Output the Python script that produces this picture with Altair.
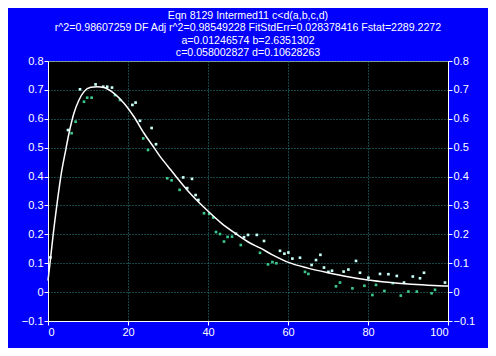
import altair as alt
import pandas as pd
import numpy as np

# ---- data ----
pt_x = [0.6, 5.0, 5.9, 6.9, 8.0, 9.0, 9.8, 10.9, 11.9, 13.8, 14.8, 16.0, 16.75, 18.0,
        21.1, 21.9, 23.0, 23.8, 25.0, 25.9, 27.0, 29.8, 30.9, 32.9, 33.8, 34.8, 36.0,
        36.9, 37.6, 39.0, 40.3, 41.3, 42.0, 43.0, 44.0, 44.9, 46.0, 47.0, 48.2, 49.0,
        50.0, 52.2, 53.0, 54.0, 55.0, 56.1, 57.1, 58.0, 59.1, 60.1, 61.1, 63.0, 64.25,
        65.1, 65.9, 67.0, 68.1, 69.0, 70.1, 71.0, 72.0, 73.0, 73.9, 75.1, 76.1, 77.0,
        78.0, 79.1, 80.1, 81.1, 82.0, 83.0, 84.1, 85.1, 86.2, 87.2, 88.2, 89.0, 90.1,
        91.2, 92.2, 93.0, 94.0, 95.9, 96.75, 99.25]
pt_y = [0.12, 0.561, 0.55, 0.59, 0.702, 0.659, 0.673, 0.673, 0.719, 0.711, 0.711, 0.708,
        0.682, 0.665, 0.648, 0.656, 0.593, 0.532, 0.492, 0.568, 0.512, 0.394, 0.387,
        0.354, 0.397, 0.36, 0.392, 0.336, 0.319, 0.273, 0.271, 0.258, 0.208, 0.201,
        0.175, 0.191, 0.192, 0.202, 0.163, 0.19, 0.198, 0.198, 0.136, 0.177, 0.096,
        0.104, 0.1, 0.143, 0.133, 0.137, 0.116, 0.119, 0.07, 0.063, 0.094, 0.111, 0.129,
        0.085, 0.07, 0.074, 0.02, 0.033, 0.071, 0.078, 0.013, 0.108, 0.067, 0.022, 0.05,
        -0.01, 0.025, 0.063, 0.004, 0.062, 0.031, 0.056, -0.012, 0.033, 0.002, 0.054,
        0.002, 0.048, 0.067, -0.004, 0.008, 0.033]

fit_x = [0, 0.5, 1.3, 2.3, 3.2, 4.4, 5.25, 6.5, 7.75, 9, 10.7, 12.3, 14, 16.5, 19, 21.5,
         24, 26, 28, 30, 32, 35, 39.25, 43.4, 46.75, 50.5, 53, 56, 60.3, 65, 70, 75,
         80, 85, 90, 95, 100]
fit_y = [0.04, 0.10, 0.20, 0.31, 0.40, 0.49, 0.55, 0.62, 0.665, 0.694, 0.709, 0.711,
         0.708, 0.688, 0.654, 0.607, 0.55, 0.51, 0.47, 0.435, 0.40, 0.35, 0.29, 0.238,
         0.204, 0.17, 0.153, 0.13, 0.102, 0.083, 0.067, 0.053, 0.042, 0.034, 0.028,
         0.024, 0.021]

title_lines = [
    "Eqn 8129  Intermed11 c<d(a,b,c,d)",
    "r^2=0.98607259  DF Adj r^2=0.98549228  FitStdErr=0.028378416  Fstat=2289.2272",
    "a=0.01246574 b=2.6351302",
    "c=0.058002827 d=0.10628263",
]

x_ticks = list(range(0, 101, 10))
y_ticks = [-0.1, 0.0, 0.1, 0.2, 0.3, 0.4, 0.5, 0.6, 0.7, 0.8]

# ---- tables ----
resid = np.array(pt_y) - np.interp(pt_x, fit_x, fit_y)
pts = pd.DataFrame({"x": pt_x, "y": pt_y,
                    "side": np.where(resid >= 0, "above", "below")})
fit = pd.DataFrame({"x": fit_x, "y": fit_y})

FONT = "Liberation Sans"
xscale = alt.Scale(domain=[0, 100], nice=False, zero=False)
yscale = alt.Scale(domain=[-0.1, 0.8], nice=False, zero=False)

axis_common = dict(labelColor="white", labelFont=FONT, labelFontSize=11,
                   domainColor="white", tickColor="white", tickSize=4,
                   labelPadding=1, title=None,
                   gridColor="#2a8a8a", gridDash=[1, 2], gridWidth=1, gridOpacity=1)

yexpr = "datum.value == 0 ? '0' : format(datum.value, '.1f')"

points = alt.Chart(pts).mark_square(size=7, opacity=1).encode(
    x=alt.X("x:Q", scale=xscale,
            axis=alt.Axis(values=x_ticks, grid=True,
                          labelExpr="datum.value % 20 == 0 ? datum.label : ''",
                          **axis_common)),
    y=alt.Y("y:Q", scale=yscale,
            axis=alt.Axis(values=y_ticks, grid=True, labelExpr=yexpr, orient="left",
                          **axis_common)),
    color=alt.Color("side:N",
                    scale=alt.Scale(domain=["above", "below"],
                                    range=["#c8fff8", "#3cc88c"]),
                    legend=None),
)

curve = alt.Chart(fit).mark_line(color="white", strokeWidth=1.5,
                                 interpolate="monotone").encode(
    x=alt.X("x:Q", scale=xscale),
    y=alt.Y("y:Q", scale=yscale,
            axis=alt.Axis(values=y_ticks, grid=False, labelExpr=yexpr, orient="right",
                          **axis_common)),
)

chart = alt.layer(points, curve).resolve_axis(y="independent").properties(
    width=400, height=260,
    autosize=alt.AutoSizeParams(type="none"),
    padding={"left": 40, "top": 53, "right": 40, "bottom": 27},
    background="#0000fc",
    title=alt.TitleParams(text=title_lines, color="white", font=FONT, fontSize=10.6,
                          fontWeight="normal", anchor="middle", frame="group",
                          offset=-4, lineHeight=12.5),
).configure_view(fill="black", stroke="#a0a0a0", strokeWidth=1)

chart.save("out.html", embed_options={"renderer": "svg", "actions": False})
